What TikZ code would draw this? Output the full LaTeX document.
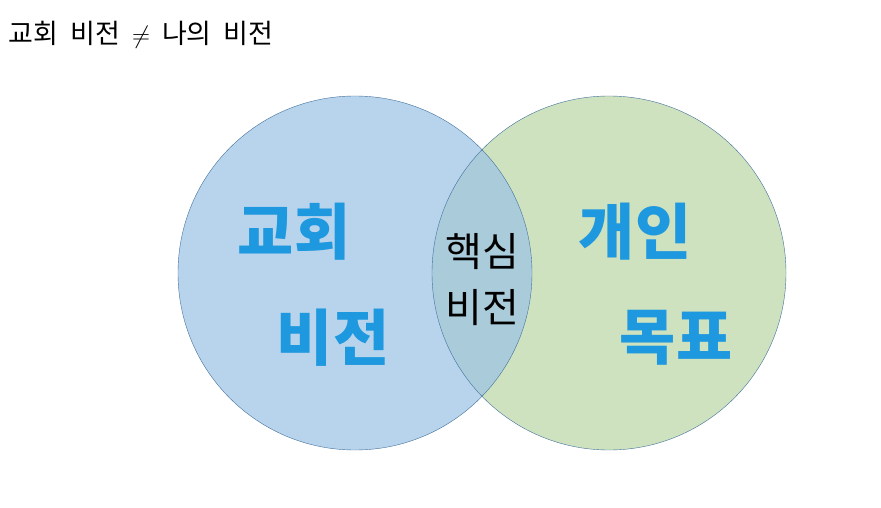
\documentclass[tikz,border=0pt]{standalone}
\usepackage{fontspec}
\setmainfont{Noto Sans CJK KR}
\definecolor{lblue}{RGB}{155,194,230}
\definecolor{lgreen}{RGB}{206,226,191}
\definecolor{edge}{RGB}{65,113,156}
\definecolor{tblue}{RGB}{30,152,222}
\begin{document}
\begin{tikzpicture}[x=1pt,y=-1pt,
  big/.style={font=\fontsize{61}{66}\selectfont\bfseries,text=tblue},
  mid/.style={font=\fontsize{40}{46}\selectfont}]
\useasboundingbox[fill=white] (0,0) rectangle (881,508);
\fill[lgreen] (609,273) circle (177);
\fill[lblue,opacity=0.7] (355,273) circle (177);
\draw[edge,thin] (355,273) circle (177);
\draw[edge,thin] (609,273) circle (177);
\node[anchor=west,font=\fontsize{27}{32}\selectfont] (title) at (5,35) {교회\ \ 비전\ \ $\neq$\ \ 나의\ \ 비전};
\node[big] (a1) at (294,232) {교회};
\node[big] (a2) at (333,338) {비전};
\node[big] (b1) at (635,232) {개인};
\node[big] (b2) at (676,338) {목표};
\node[mid] (c1) at (482,252) {핵심};
\node[mid] (c2) at (482,308) {비전};
\end{tikzpicture}
\end{document}
